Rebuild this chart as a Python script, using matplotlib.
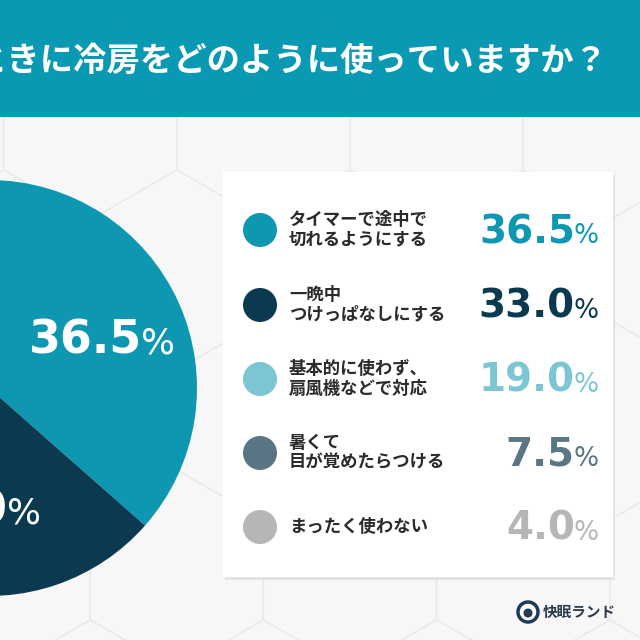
import numpy as np
import matplotlib
matplotlib.use("Agg")
import matplotlib.pyplot as plt
from matplotlib.patches import FancyBboxPatch, Rectangle, RegularPolygon, Circle

# -------------------------------
# DATA
# -------------------------------
title = "ときに冷房をどのように使っていますか？"
labels = [
    "タイマーで途中で\n切れるようにする",
    "一晩中\nつけっぱなしにする",
    "基本的に使わず、\n扇風機などで対応",
    "暑くて\n目が覚めたらつける",
    "まったく使わない",
]
values = [36.5, 33.0, 19.0, 7.5, 4.0]
colors = ["#0E97B1", "#0B3A50", "#7CC6D4", "#5A7584", "#B6B6B6"]
brand = "快眠ランド"

JP = ["Noto Sans CJK JP", "DejaVu Sans"]
NUM = "DejaVu Sans"

# -------------------------------
# CANVAS (pixel coordinates, y down)
# -------------------------------
fig = plt.figure(figsize=(6.4, 6.4), dpi=100)
ax = fig.add_axes([0, 0, 1, 1])
fig.patch.set_facecolor("#F1F1F1")

# pie first (pie resets limits)
wedges, _ = ax.pie(values, colors=colors, startangle=-90, counterclock=True,
                   center=(-11, 388), radius=208,
                   wedgeprops=dict(linewidth=0), frame=False)
for w in wedges:
    w.set_zorder(3)

ax.set_xlim(0, 640)
ax.set_ylim(640, 0)
ax.set_aspect("auto")
ax.axis("off")

# background hexagon pattern
s = 100
for r in range(-1, 6):
    cy = 120 + r * 1.5 * s
    off = 436.6 if r % 2 == 0 else 350.0
    for k in range(-4, 3):
        cx = off + k * np.sqrt(3) * s
        ax.add_patch(RegularPolygon((cx, cy), 6, radius=s, orientation=0,
                                    facecolor="#F7F7F7", edgecolor="#E9E9E9",
                                    linewidth=1.0, zorder=0))

# title bar
ax.add_patch(Rectangle((0, 0), 640, 117, facecolor="#0A99B2", edgecolor="none", zorder=5))
ax.text(607, 61, title, ha="right", va="center", fontsize=24, color="white",
        fontweight="bold", family=JP, zorder=6)

renderer = fig.canvas.get_renderer()


def pct_label(x, y, value, size, color, mode, psize=0.72):
    num = ax.text(0, y, f"{value:.1f}", ha="left", va="baseline", fontsize=size,
                  color=color, fontweight="bold", family=NUM, zorder=6)
    pct = ax.text(0, y, "%", ha="left", va="baseline", fontsize=size * psize,
                  color=color, family=NUM, zorder=6)
    wn = num.get_window_extent(renderer).width
    wp = pct.get_window_extent(renderer).width
    gap = -1
    if mode == "center":
        left = x - (wn + gap + wp) / 2
    else:  # right edge at x
        left = x - (wn + gap + wp)
    num.set_x(left)
    pct.set_x(left + wn + gap)


# pie labels (only the large slices show on this crop)
for w, v in zip(wedges, values):
    if v < 20:
        continue
    mid = np.deg2rad((w.theta1 + w.theta2) / 2)
    lx = -11 + 0.585 * 208 * np.cos(mid)
    ly = 388 + 0.585 * 208 * np.sin(mid)
    pct_label(lx + 2, ly + 16, v, 33, "white", "center", psize=0.78)

# legend box
ax.add_patch(FancyBboxPatch((225, 175), 390, 405, boxstyle="square,pad=0",
                            facecolor="#D8D8D8", edgecolor="none", zorder=3, alpha=0.6))
ax.add_patch(Rectangle((223, 172), 390, 405, facecolor="white", edgecolor="none", zorder=4))

row_y = [230, 305, 379, 453, 527]
for yy, lab, v, c in zip(row_y, labels, values, colors):
    ax.add_patch(Circle((260, yy), 17, facecolor=c, edgecolor="none", zorder=5))
    ax.text(289, yy, lab, ha="left", va="center", fontsize=12.5, color="#2B2B2B",
            fontweight="bold", family=JP, linespacing=1.1, zorder=6)
    pct_label(599, yy + 13, v, 28, c, "right", psize=0.68)

# brand logo
ax.add_patch(Circle((528, 612), 10, facecolor="white", edgecolor="#1F3A52",
                    linewidth=2.5, zorder=5))
ax.add_patch(Circle((528, 613), 4.5, facecolor="#1F3A52", edgecolor="none", zorder=6))
ax.text(543, 612, brand, ha="left", va="center", fontsize=10.5, color="#2A3A4C",
        fontweight="bold", family=JP, zorder=6)

fig.savefig("out.png", dpi=100, facecolor=fig.get_facecolor())
